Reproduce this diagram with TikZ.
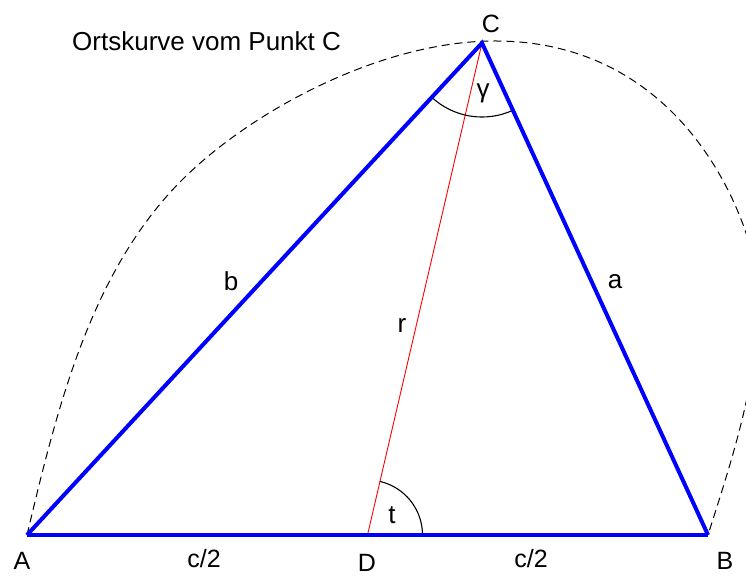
\documentclass[tikz,border=0pt]{standalone}
\usepackage{fontspec}
\setmainfont{Liberation Sans}
\usetikzlibrary{calc}
\begin{document}
\begin{tikzpicture}[x=1pt,y=1pt,
  side/.style={draw={rgb,255:red,0;green,0;blue,255},line width=4pt,line join=miter},
  median/.style={draw=red,line width=0.9pt},
  anglearc/.style={draw=black,line width=1.1pt},
  locus/.style={draw=black,line width=1pt,dash pattern=on 8pt off 5pt},
  biglbl/.style={inner sep=0pt,anchor=base,font=\fontsize{26}{30}\selectfont},
  smalllbl/.style={inner sep=0pt,anchor=base,font=\fontsize{25}{29}\selectfont}]
\useasboundingbox (0,0) rectangle (746,575);
\clip (0,0) rectangle (746,575);
\coordinate (A) at (27,40);
\coordinate (B) at (708,40);
\coordinate (C) at (482,532);
\coordinate (D) at (367.5,40);
\coordinate (L1) at (182,395);
\coordinate (Top) at (495,534);
\coordinate (R1) at (745,345);
% locus curve
\draw[locus] (A) .. controls (57,166) and (90,303) .. (L1)
  .. controls (250,463) and (380,534) .. (Top)
  .. controls (640,534) and (715,430) .. (R1)
  .. controls (778,251) and (738,135) .. (B);
% median
\draw[median] (D) -- (C);
% angles
\draw[anglearc] ($(C)!74pt!(A)$) arc[start angle=227.2,end angle=294.7,radius=74pt];
\draw[anglearc] ($(D)+(55,0)$) arc[start angle=0,end angle=76.9,radius=55pt];
% triangle
\draw[side] (A) -- (B);
\draw[side] (A) -- (C) -- (B);
% labels
\node[biglbl,anchor=base west] (lbl-locus) at (72,524) {Ortskurve vom Punkt C};
\node[smalllbl] (lbl-C) at (491,542) {C};
\node[biglbl] (lbl-gamma) at (483,477) {γ};
\node[biglbl] (lbl-b) at (231,284) {b};
\node[biglbl] (lbl-a) at (615,286) {a};
\node[biglbl] (lbl-r) at (402,242) {r};
\node[biglbl] (lbl-t) at (392,51) {t};
\node[smalllbl] (lbl-A) at (22,6) {A};
\node[smalllbl] (lbl-c1) at (204,8) {c/2};
\node[smalllbl] (lbl-D) at (367,4) {D};
\node[smalllbl] (lbl-c2) at (531,8) {c/2};
\node[smalllbl] (lbl-B) at (725,6) {B};
\end{tikzpicture}
\end{document}
